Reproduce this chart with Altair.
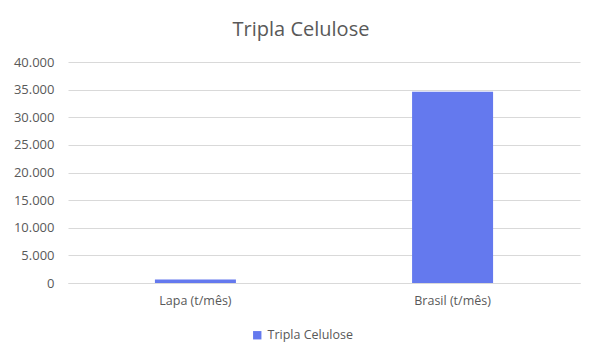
import altair as alt
import pandas as pd

categories = ["Lapa (t/mês)", "Brasil (t/mês)"]
values = [650, 34600]
series = "Tripla Celulose"

df = pd.DataFrame({"categoria": categories, "valor": values, "serie": [series] * 2})

FONT = "Open Sans"
GREY = "#595959"

chart = alt.Chart(df).mark_bar(color="#6479EE").encode(
    x=alt.X("categoria:N", sort=categories, title=None,
            scale=alt.Scale(paddingInner=0.685, paddingOuter=0.338),
            axis=alt.Axis(labelAngle=0, ticks=False, domain=True, domainColor="#d9d9d9",
                          labelColor=GREY, labelFont=FONT, labelFontSize=12.5, labelPadding=11)),
    y=alt.Y("valor:Q", title=None,
            scale=alt.Scale(domain=[0, 40000]),
            axis=alt.Axis(values=list(range(0, 40001, 5000)), domain=False, ticks=False,
                          gridColor="#d9d9d9", labelColor=GREY, labelFont=FONT, labelFontSize=13,
                          labelPadding=14,
                          labelExpr="replace(format(datum.value, ',.0f'), ',', '.')")),
    fill=alt.Fill("serie:N", scale=alt.Scale(range=["#6479EE"]),
                  legend=alt.Legend(title=None, orient="none", legendX=183, legendY=267,
                                    symbolType="square", symbolSize=70, labelFont=FONT,
                                    labelFontSize=12.5, labelColor=GREY, symbolStrokeWidth=0)),
).properties(
    width=512, height=221,
    title=alt.TitleParams(text="Tripla Celulose", font=FONT, fontSize=20, fontWeight="normal",
                          color=GREY, anchor="middle", dx=-23, offset=16),
    autosize=alt.AutoSizeParams(type="none"),
    padding={"left": 60, "top": 54, "right": 8, "bottom": 67},
).configure_view(stroke=None)

chart.save("out.html", embed_options={"renderer": "svg", "actions": False})
